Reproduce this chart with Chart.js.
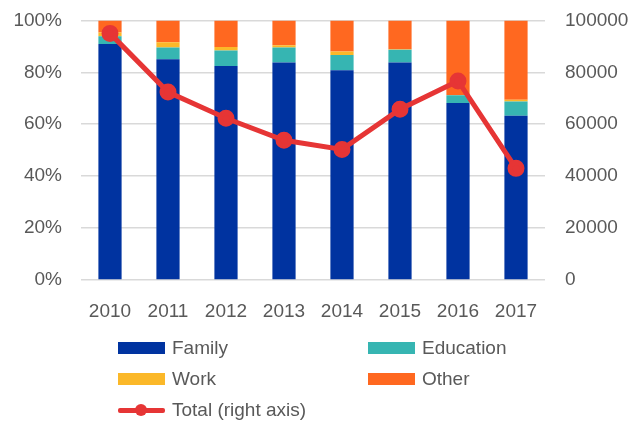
<!DOCTYPE html>
<html>
<head>
<meta charset="utf-8">
<script src="https://cdn.jsdelivr.net/npm/chart.js@4"></script>
<style>
  body { margin: 0; background: #fff; }
  #wrap { position: relative; width: 638px; height: 423px; overflow: hidden; }
  #myChart { position: absolute; left: 0; top: -11px; }
  #legend { position: absolute; left: 0; top: 0; width: 638px; height: 423px; pointer-events: none;
    font-family: "Liberation Sans", Arial, sans-serif; font-size: 19px; color: #595959; }
  .item { position: absolute; display: flex; align-items: center; height: 24px; }
  .box { width: 47px; height: 12px; margin-right: 7px; }
  .lineSym { position: relative; width: 47px; height: 12px; margin-right: 7px; }
</style>
</head>
<body>
<div id="wrap">
  <canvas id="myChart" width="638" height="434"></canvas>
  <div id="legend"></div>
</div>
<script>
const years = ['2010', '2011', '2012', '2013', '2014', '2015', '2016', '2017'];
const family = [90.9, 85.0, 82.4, 83.8, 80.8, 83.8, 68.2, 63.3];
const education = [3.0, 4.6, 6.0, 5.8, 5.9, 4.9, 3.0, 5.5];
const work = [1.4, 2.0, 1.4, 0.8, 1.3, 0.2, 0.1, 0.6];
const other = [4.7, 8.4, 10.2, 9.6, 12.0, 11.1, 28.7, 30.6];
const total = [95000, 72400, 62300, 53800, 50300, 65800, 76700, 43000];

const colors = {
  family: '#0033a0',
  education: '#36b5b2',
  work: '#fbb829',
  other: '#ff6820',
  total: '#e63535'
};

function barSet(label, data, color) {
  return {
    type: 'bar',
    label: label,
    data: data,
    backgroundColor: color,
    yAxisID: 'y',
    order: 1,
    barPercentage: 1,
    categoryPercentage: 0.4
  };
}

function initChart(target) {
  const data = {
    labels: years,
    datasets: [
      barSet('Family', family, colors.family),
      barSet('Education', education, colors.education),
      barSet('Work', work, colors.work),
      barSet('Other', other, colors.other),
      {
        type: 'line',
        label: 'Total (right axis)',
        data: total,
        yAxisID: 'y1',
        order: 0,
        borderColor: colors.total,
        backgroundColor: colors.total,
        borderWidth: 5,
        pointRadius: 6,
        pointHoverRadius: 6,
        tension: 0
      }
    ]
  };

  const tickFont = { family: '"Liberation Sans", Arial, sans-serif', size: 19 };

  return new Chart(target, {
    data: data,
    options: {
      responsive: false,
      animation: false,
      layout: { padding: 0 },
      plugins: { legend: { display: false }, tooltip: { enabled: false } },
      scales: {
        x: {
          stacked: true,
          grid: { display: false, drawTicks: false },
          border: { display: false },
          ticks: { color: '#595959', font: tickFont, padding: 20 },
          afterFit: (scale) => { scale.height = 143; }
        },
        y: {
          stacked: true,
          min: 0,
          max: 100,
          position: 'left',
          grid: { color: '#d9d9d9', lineWidth: 1.5, drawTicks: false },
          border: { display: false },
          ticks: {
            stepSize: 20,
            color: '#595959',
            font: tickFont,
            padding: 19,
            callback: (v) => v + '%'
          },
          afterFit: (scale) => { scale.width = 81; }
        },
        y1: {
          min: 0,
          max: 100000,
          position: 'right',
          grid: { display: false, drawTicks: false },
          border: { display: false },
          ticks: {
            stepSize: 20000,
            color: '#595959',
            font: tickFont,
            padding: 20,
            callback: (v) => String(v)
          },
          afterFit: (scale) => { scale.width = 93; }
        }
      }
    }
  });
}

function buildLegend(chart) {
  const legend = document.querySelector('#legend');
  const spots = [[118, 336], [368, 336], [118, 367], [368, 367], [118, 398]];
  chart.data.datasets.forEach((ds, i) => {
    const item = document.createElement('div');
    item.className = 'item';
    item.style.left = spots[i][0] + 'px';
    item.style.top = spots[i][1] + 'px';
    let sym;
    if (ds.type === 'line') {
      sym = document.createElement('div');
      sym.className = 'lineSym';
      sym.innerHTML = '<div style="position:absolute;left:0;top:4px;width:47px;height:5px;background:' + ds.borderColor + ';border-radius:2px"></div>' +
        '<div style="position:absolute;left:17px;top:0;width:12px;height:12px;border-radius:50%;background:' + ds.borderColor + '"></div>';
    } else {
      sym = document.createElement('div');
      sym.className = 'box';
      sym.style.background = ds.backgroundColor;
    }
    const txt = document.createElement('span');
    txt.textContent = ds.label;
    item.appendChild(sym);
    item.appendChild(txt);
    legend.appendChild(item);
  });
}

function MainEvent() {
  const chart = initChart(document.querySelector('#myChart'));
  buildLegend(chart);
}

document.addEventListener('DOMContentLoaded', () => MainEvent());
</script>
</body>
</html>
